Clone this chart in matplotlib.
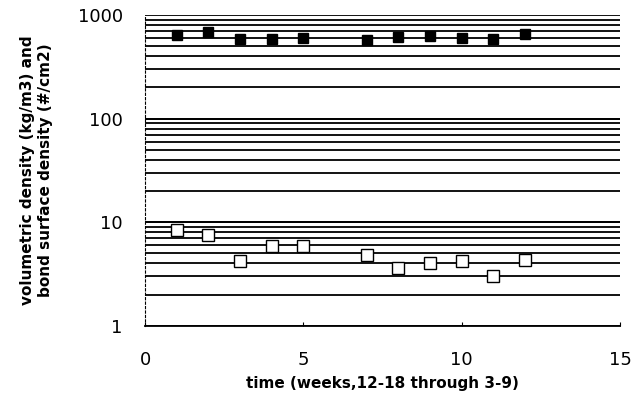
import numpy as np
import matplotlib.pyplot as plt

weeks = [1, 2, 3, 4, 5, 7, 8, 9, 10, 11, 12]
vol_density = [643, 687, 588, 588, 600, 575, 614, 628, 600, 588, 656]
bond_density = [8.4, 7.5, 4.2, 5.9, 5.9, 4.8, 3.6, 4.0, 4.2, 3.0, 4.3]

fig = plt.figure(figsize=(6.42, 4.11), dpi=100)
ax = fig.add_axes([0.226, 0.207, 0.74, 0.757])

# horizontal rules at every log step
for dec in [1, 10, 100]:
    for m in range(1, 11):
        ax.axhline(dec * m, color='black', lw=1.3, zorder=1)

ax.plot(weeks, vol_density, 's', ms=7, color='black', zorder=3)
ax.plot(weeks, bond_density, 's', ms=8.5, mfc='white', mec='black', mew=1.0, zorder=3)

ax.set_yscale('log')
ax.set_xlim(0, 15)
ax.set_ylim(1, 1000)
ax.set_xticks([0, 5, 10, 15])
ax.set_yticks([1, 10, 100, 1000])
ax.set_yticklabels(['1', '10', '100', '1000'])
ax.minorticks_off()
ax.tick_params(axis='y', length=0, labelsize=13, pad=16)
ax.tick_params(axis='x', length=3, direction='in', labelsize=13, pad=18)

for s in ['top', 'right']:
    ax.spines[s].set_visible(False)
ax.spines['left'].set_linestyle((0, (2, 2)))
ax.spines['left'].set_linewidth(0.8)
ax.spines['bottom'].set_linewidth(1.3)

ax.set_xlabel('time (weeks,12-18 through 3-9)', fontsize=11, fontweight='bold', labelpad=5)
ax.set_ylabel('volumetric density (kg/m3) and\nbond surface density (#/cm2)',
              fontsize=11, fontweight='bold', labelpad=18)

plt.savefig('out.png')
